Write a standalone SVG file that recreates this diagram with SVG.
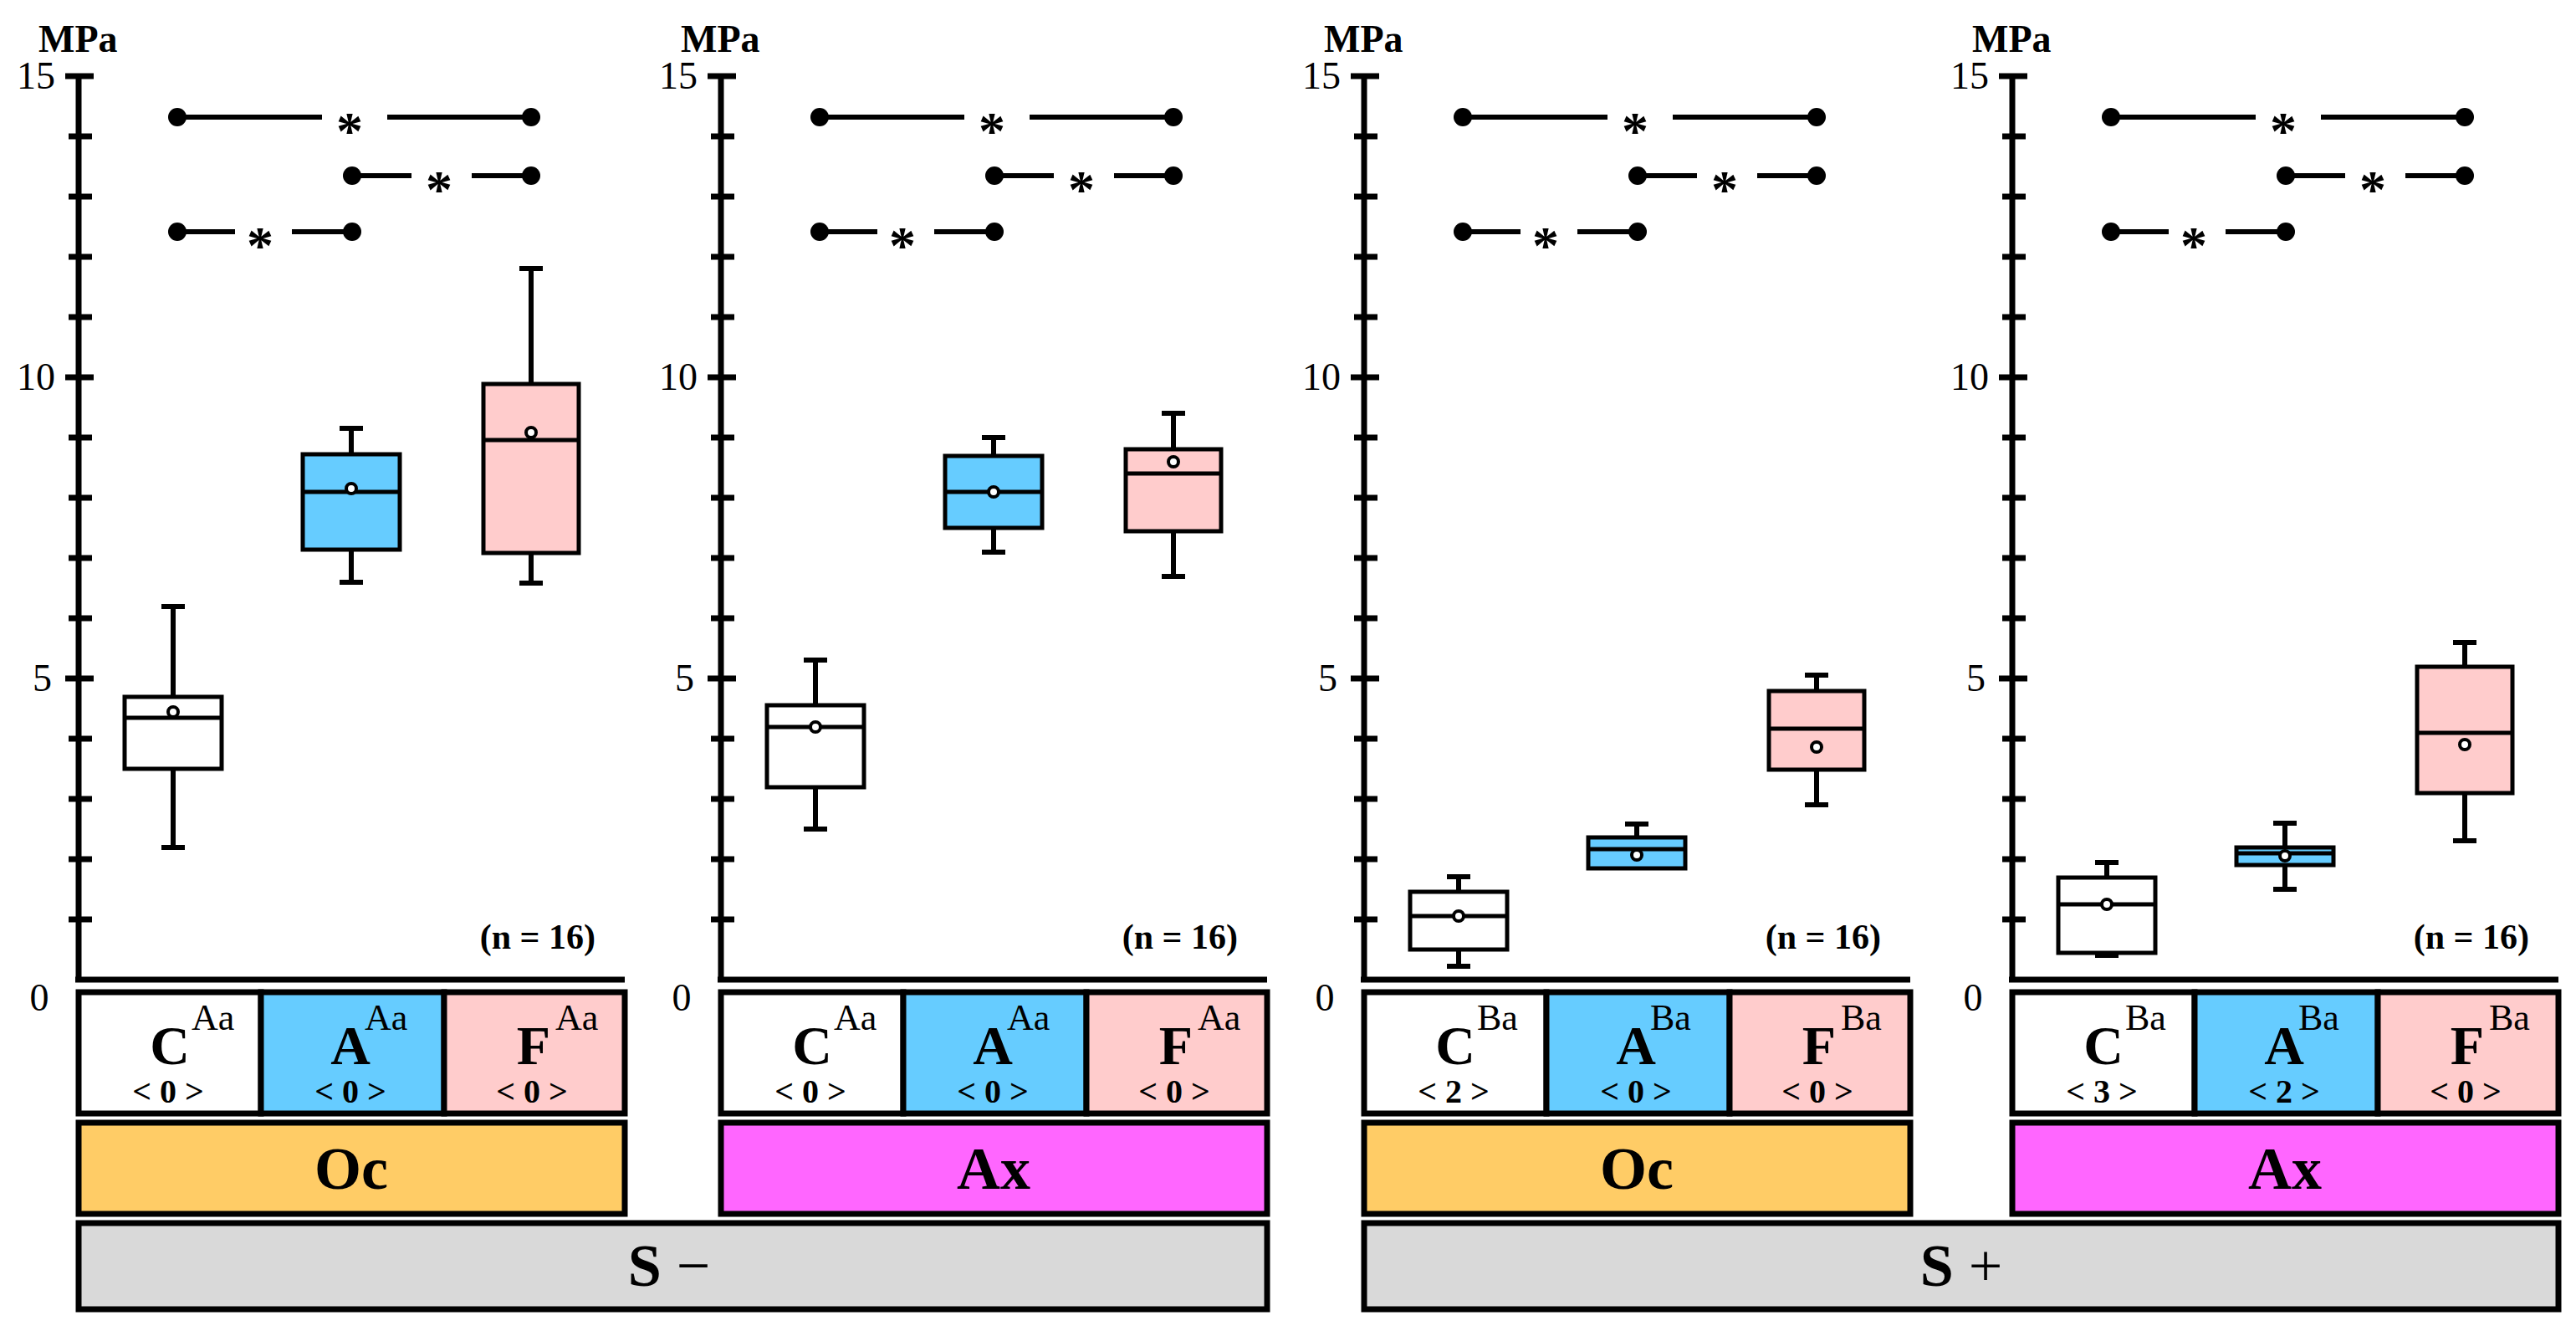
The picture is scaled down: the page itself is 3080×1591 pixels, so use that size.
<svg xmlns="http://www.w3.org/2000/svg" width="3080" height="1591" viewBox="0 0 3080 1591" font-family="'Liberation Serif', 'DejaVu Serif', serif">
<style>
text{font-family:'Liberation Serif','DejaVu Serif',serif;fill:#000}
.ax{stroke:#000;stroke-width:7;fill:none}
.tk{stroke:#000;stroke-width:7}
.wh{stroke:#000;stroke-width:6;fill:none}
.bx{stroke:#000;stroke-width:5}
.md{stroke:#000;stroke-width:5}
.mn{fill:#fff;stroke:#000;stroke-width:4}
.sig{stroke:#000;stroke-width:6}
.dot{fill:#000}
.cell{stroke:#000;stroke-width:7}
.num{font-size:46px}
.lab{font-size:66px;font-weight:bold}
.sup{font-size:44px}
.cnt{font-size:40px;font-weight:bold}
.big{font-size:72px;font-weight:bold}
.n{font-size:42px;font-weight:bold}
.ast{font-size:64px;font-weight:bold}
</style>
<defs>
<g id="axis">
<line class="ax" x1="94" y1="88" x2="94" y2="1171"/>
<line class="ax" x1="90" y1="1171" x2="747" y2="1171"/>
<g class="tk">
<line x1="78" y1="91" x2="112" y2="91"/><line x1="82" y1="163" x2="110" y2="163"/><line x1="82" y1="235" x2="110" y2="235"/><line x1="82" y1="307" x2="110" y2="307"/><line x1="82" y1="379" x2="110" y2="379"/>
<line x1="78" y1="451" x2="112" y2="451"/><line x1="82" y1="523" x2="110" y2="523"/><line x1="82" y1="595" x2="110" y2="595"/><line x1="82" y1="667" x2="110" y2="667"/><line x1="82" y1="739" x2="110" y2="739"/>
<line x1="78" y1="811" x2="112" y2="811"/><line x1="82" y1="883" x2="110" y2="883"/><line x1="82" y1="955" x2="110" y2="955"/><line x1="82" y1="1027" x2="110" y2="1027"/><line x1="82" y1="1099" x2="110" y2="1099"/>
</g>
<text class="num" x="66" y="106" text-anchor="end">15</text>
<text class="num" x="66" y="466" text-anchor="end">10</text>
<text class="num" x="62" y="826" text-anchor="end">5</text>
<text class="num" x="47" y="1208" text-anchor="middle">0</text>
<text x="46" y="62" style="font-size:46px;font-weight:bold">MPa</text>
<text class="n" x="712" y="1134" text-anchor="end">(n = 16)</text>
<g>
<line class="sig" x1="212" y1="140" x2="385" y2="140"/><line class="sig" x1="463" y1="140" x2="635" y2="140"/>
<circle class="dot" cx="212" cy="140" r="11"/><circle class="dot" cx="635" cy="140" r="11"/>
<text class="ast" x="418" y="178" text-anchor="middle">*</text>
<line class="sig" x1="421" y1="210" x2="492" y2="210"/><line class="sig" x1="564" y1="210" x2="635" y2="210"/>
<circle class="dot" cx="421" cy="210" r="11"/><circle class="dot" cx="635" cy="210" r="11"/>
<text class="ast" x="525" y="248" text-anchor="middle">*</text>
<line class="sig" x1="212" y1="277" x2="281" y2="277"/><line class="sig" x1="349" y1="277" x2="421" y2="277"/>
<circle class="dot" cx="212" cy="277" r="11"/><circle class="dot" cx="421" cy="277" r="11"/>
<text class="ast" x="311" y="315" text-anchor="middle">*</text>
</g>
</g>
</defs>

<g id="panel-oc-sminus">
<use href="#axis"/>
<g id="p1-C"><path class="wh" d="M207 725V833M193 725H221M207 919V1013M193 1013H221"/><rect class="bx" x="149" y="833" width="116" height="86" fill="#fff"/><line class="md" x1="149" y1="858" x2="265" y2="858"/><circle class="mn" cx="207" cy="851" r="6"/></g>
<g id="p1-A"><path class="wh" d="M420 512V543M406 512H434M420 657V696M406 696H434"/><rect class="bx" x="362" y="543" width="116" height="114" fill="#66ccff"/><line class="md" x1="362" y1="588" x2="478" y2="588"/><circle class="mn" cx="420" cy="584" r="6"/></g>
<g id="p1-F"><path class="wh" d="M635 321V459M621 321H649M635 661V697M621 697H649"/><rect class="bx" x="578" y="459" width="114" height="202" fill="#ffcccc"/><line class="md" x1="578" y1="526" x2="692" y2="526"/><circle class="mn" cx="635" cy="517" r="6"/></g>
</g>

<g id="panel-ax-sminus" transform="translate(768,0)">
<use href="#axis"/>
<g id="p2-C"><path class="wh" d="M207 789V843M193 789H221M207 941V991M193 991H221"/><rect class="bx" x="149" y="843" width="116" height="98" fill="#fff"/><line class="md" x1="149" y1="869" x2="265" y2="869"/><circle class="mn" cx="207" cy="869" r="6"/></g>
<g id="p2-A"><path class="wh" d="M420 523V545M406 523H434M420 631V660M406 660H434"/><rect class="bx" x="362" y="545" width="116" height="86" fill="#66ccff"/><line class="md" x1="362" y1="588" x2="478" y2="588"/><circle class="mn" cx="420" cy="588" r="6"/></g>
<g id="p2-F"><path class="wh" d="M635 494V537M621 494H649M635 635V689M621 689H649"/><rect class="bx" x="578" y="537" width="114" height="98" fill="#ffcccc"/><line class="md" x1="578" y1="566" x2="692" y2="566"/><circle class="mn" cx="635" cy="552" r="6"/></g>
</g>

<g id="panel-oc-splus" transform="translate(1537,0)">
<use href="#axis"/>
<g id="p3-C"><path class="wh" d="M207 1048V1066M193 1048H221M207 1135V1155M193 1155H221"/><rect class="bx" x="149" y="1066" width="116" height="69" fill="#fff"/><line class="md" x1="149" y1="1095" x2="265" y2="1095"/><circle class="mn" cx="207" cy="1095" r="6"/></g>
<g id="p3-A"><path class="wh" d="M420 985V1001M406 985H434M406 1035H434"/><rect class="bx" x="362" y="1001" width="116" height="37" fill="#66ccff"/><line class="md" x1="362" y1="1015" x2="478" y2="1015"/><circle class="mn" cx="420" cy="1022" r="6"/></g>
<g id="p3-F"><path class="wh" d="M635 807V826M621 807H649M635 920V962M621 962H649"/><rect class="bx" x="578" y="826" width="114" height="94" fill="#ffcccc"/><line class="md" x1="578" y1="871" x2="692" y2="871"/><circle class="mn" cx="635" cy="893" r="6"/></g>
</g>

<g id="panel-ax-splus" transform="translate(2312,0)">
<use href="#axis"/>
<g id="p4-C"><path class="wh" d="M207 1031V1049M193 1031H221M193 1142H221"/><rect class="bx" x="149" y="1049" width="116" height="90" fill="#fff"/><line class="md" x1="149" y1="1081" x2="265" y2="1081"/><circle class="mn" cx="207" cy="1081" r="6"/></g>
<g id="p4-A"><path class="wh" d="M420 984V1013M406 984H434M420 1034V1063M406 1063H434"/><rect class="bx" x="362" y="1013" width="116" height="21" fill="#66ccff"/><line class="md" x1="362" y1="1020" x2="478" y2="1020"/><circle class="mn" cx="420" cy="1023" r="6"/></g>
<g id="p4-F"><path class="wh" d="M635 768V797M621 768H649M635 948V1005M621 1005H649"/><rect class="bx" x="578" y="797" width="114" height="151" fill="#ffcccc"/><line class="md" x1="578" y1="876" x2="692" y2="876"/><circle class="mn" cx="635" cy="890" r="6"/></g>
</g>

<g id="cells-1">
<rect class="cell" x="94" y="1186" width="218" height="145" fill="#fff"/><rect class="cell" x="312" y="1186" width="219" height="145" fill="#66ccff"/><rect class="cell" x="531" y="1186" width="216" height="145" fill="#ffcccc"/>
<text class="lab" x="203" y="1272" text-anchor="middle">C</text><text class="sup" x="229" y="1231">Aa</text><text class="cnt" x="201" y="1318" text-anchor="middle">&lt; 0 &gt;</text>
<text class="lab" x="419" y="1272" text-anchor="middle">A</text><text class="sup" x="436" y="1231">Aa</text><text class="cnt" x="419" y="1318" text-anchor="middle">&lt; 0 &gt;</text>
<text class="lab" x="638" y="1272" text-anchor="middle">F</text><text class="sup" x="664" y="1231">Aa</text><text class="cnt" x="636" y="1318" text-anchor="middle">&lt; 0 &gt;</text>
</g>
<g id="cells-2" transform="translate(768,0)">
<rect class="cell" x="94" y="1186" width="218" height="145" fill="#fff"/><rect class="cell" x="312" y="1186" width="219" height="145" fill="#66ccff"/><rect class="cell" x="531" y="1186" width="216" height="145" fill="#ffcccc"/>
<text class="lab" x="203" y="1272" text-anchor="middle">C</text><text class="sup" x="229" y="1231">Aa</text><text class="cnt" x="201" y="1318" text-anchor="middle">&lt; 0 &gt;</text>
<text class="lab" x="419" y="1272" text-anchor="middle">A</text><text class="sup" x="436" y="1231">Aa</text><text class="cnt" x="419" y="1318" text-anchor="middle">&lt; 0 &gt;</text>
<text class="lab" x="638" y="1272" text-anchor="middle">F</text><text class="sup" x="664" y="1231">Aa</text><text class="cnt" x="636" y="1318" text-anchor="middle">&lt; 0 &gt;</text>
</g>
<g id="cells-3" transform="translate(1537,0)">
<rect class="cell" x="94" y="1186" width="218" height="145" fill="#fff"/><rect class="cell" x="312" y="1186" width="219" height="145" fill="#66ccff"/><rect class="cell" x="531" y="1186" width="216" height="145" fill="#ffcccc"/>
<text class="lab" x="203" y="1272" text-anchor="middle">C</text><text class="sup" x="229" y="1231">Ba</text><text class="cnt" x="201" y="1318" text-anchor="middle">&lt; 2 &gt;</text>
<text class="lab" x="419" y="1272" text-anchor="middle">A</text><text class="sup" x="436" y="1231">Ba</text><text class="cnt" x="419" y="1318" text-anchor="middle">&lt; 0 &gt;</text>
<text class="lab" x="638" y="1272" text-anchor="middle">F</text><text class="sup" x="664" y="1231">Ba</text><text class="cnt" x="636" y="1318" text-anchor="middle">&lt; 0 &gt;</text>
</g>
<g id="cells-4" transform="translate(2312,0)">
<rect class="cell" x="94" y="1186" width="218" height="145" fill="#fff"/><rect class="cell" x="312" y="1186" width="219" height="145" fill="#66ccff"/><rect class="cell" x="531" y="1186" width="216" height="145" fill="#ffcccc"/>
<text class="lab" x="203" y="1272" text-anchor="middle">C</text><text class="sup" x="229" y="1231">Ba</text><text class="cnt" x="201" y="1318" text-anchor="middle">&lt; 3 &gt;</text>
<text class="lab" x="419" y="1272" text-anchor="middle">A</text><text class="sup" x="436" y="1231">Ba</text><text class="cnt" x="419" y="1318" text-anchor="middle">&lt; 2 &gt;</text>
<text class="lab" x="638" y="1272" text-anchor="middle">F</text><text class="sup" x="664" y="1231">Ba</text><text class="cnt" x="636" y="1318" text-anchor="middle">&lt; 0 &gt;</text>
</g>

<g id="bar-oc-1"><rect class="cell" x="94" y="1342" width="653" height="109" fill="#ffcc66"/><text class="big" x="420" y="1421" text-anchor="middle">Oc</text></g>
<g id="bar-ax-2"><rect class="cell" x="862" y="1342" width="653" height="109" fill="#ff66ff"/><text class="big" x="1188" y="1421" text-anchor="middle">Ax</text></g>
<g id="bar-oc-3"><rect class="cell" x="1631" y="1342" width="653" height="109" fill="#ffcc66"/><text class="big" x="1957" y="1421" text-anchor="middle">Oc</text></g>
<g id="bar-ax-4"><rect class="cell" x="2406" y="1342" width="653" height="109" fill="#ff66ff"/><text class="big" x="2732" y="1421" text-anchor="middle">Ax</text></g>

<g id="bar-sminus"><rect class="cell" x="94" y="1462" width="1421" height="103" fill="#d9d9d9"/><text class="big" x="800" y="1537" text-anchor="middle">S<tspan font-weight="normal"> −</tspan></text></g>
<g id="bar-splus"><rect class="cell" x="1631" y="1462" width="1428" height="103" fill="#d9d9d9"/><text class="big" x="2345" y="1537" text-anchor="middle">S<tspan font-weight="normal"> +</tspan></text></g>
</svg>
